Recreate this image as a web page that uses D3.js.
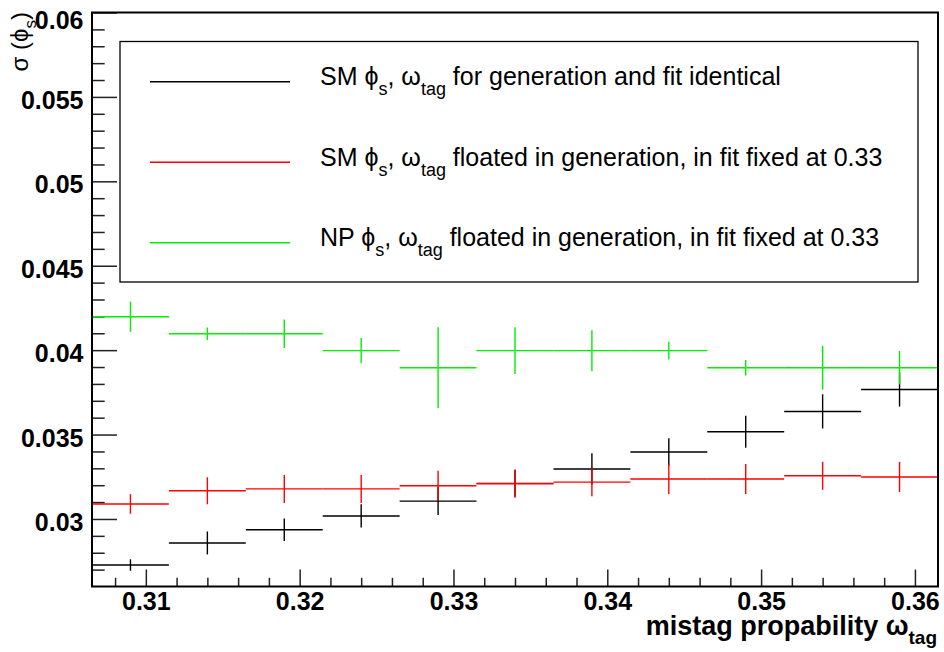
<!DOCTYPE html>
<html lang="en">
<head>
<meta charset="utf-8">
<title>sigma(phi_s) vs mistag</title>
<script src="https://cdn.jsdelivr.net/npm/d3@7"></script>
<style>
  body { margin: 0; background: #fff; }
  svg { font-family: "Liberation Sans", Arial, sans-serif; }
  .tick line { stroke: #222; stroke-width: 1.5; }
  .tick text { font-weight: bold; font-size: 25px; fill: #000; }
</style>
</head>
<body>
<script>
// bin centres (bin width 0.005)
var binCenters = [0.309, 0.314, 0.319, 0.324, 0.329, 0.334, 0.339, 0.344, 0.349, 0.354, 0.359];
var binWidth = 0.005;

// SM phi_s, w_tag identical in generation and fit
var smIdent = [0.02727, 0.02858, 0.02936, 0.03018, 0.03106, 0.03211, 0.03296, 0.03397, 0.03517, 0.03637, 0.03767];
var smIdentErr = [0.00034, 0.00068, 0.00067, 0.00069, 0.00083, 0.00080, 0.00093, 0.00081, 0.00095, 0.00101, 0.00101];

// SM phi_s, w_tag floated in generation, fixed in fit
var smFloat = [0.03089, 0.03167, 0.03178, 0.03178, 0.03197, 0.03209, 0.03218, 0.03237, 0.03237, 0.03256, 0.03249];
var smFloatErr = [0.00058, 0.00080, 0.00083, 0.00083, 0.00088, 0.00083, 0.00083, 0.00089, 0.00089, 0.00083, 0.00089];

// NP phi_s, w_tag floated in generation, fixed in fit
var npFloat = [0.04198, 0.04097, 0.04097, 0.03997, 0.03896, 0.03997, 0.03997, 0.03997, 0.03896, 0.03896, 0.03896];
var npFloatErr = [0.00089, 0.00037, 0.00085, 0.00075, 0.00240, 0.00139, 0.00121, 0.00052, 0.00046, 0.00130, 0.00099];

var xTicks = [0.31, 0.32, 0.33, 0.34, 0.35, 0.36];
var yTicks = [0.03, 0.035, 0.04, 0.045, 0.05, 0.055, 0.06];
var xDomain = [0.3065, 0.3615];
var yDomain = [0.026, 0.06];

var legendPrefix = ["SM", "SM", "NP"];
var legendText = ["for generation and fit identical",
                  "floated in generation, in fit fixed at 0.33",
                  "floated in generation, in fit fixed at 0.33"];

var margin = {top: 12.5, right: 6, bottom: 65.5, left: 92},
    W = 944, H = 652,
    width = W - margin.left - margin.right,
    height = H - margin.top - margin.bottom;

var x = d3.scaleLinear().domain(xDomain).range([0, width]);
var y = d3.scaleLinear().domain(yDomain).range([height, 0]);

var svg = d3.select("body").append("svg")
    .attr("width", W).attr("height", H);
var g = svg.append("g")
    .attr("transform", "translate(" + margin.left + "," + margin.top + ")");

// minor ticks
var xMinor = d3.range(0, 28).map(function(i) { return 0.308 + i * 0.002; })
  .filter(function(v) { return v < xDomain[1] && xTicks.every(function(t) { return Math.abs(t - v) > 1e-6; }); });
var yMinor = d3.range(0, 35).map(function(i) { return 0.026 + i * 0.001; })
  .filter(function(v) { return v > yDomain[0] + 1e-6 && v < yDomain[1] && yTicks.every(function(t) { return Math.abs(t - v) > 1e-6; }); });

g.append("g")
  .attr("transform", "translate(0," + height + ")")
  .call(d3.axisBottom(x).tickValues(xMinor).tickSize(-8.7).tickFormat(""))
  .call(function(a) { a.select(".domain").remove(); });
g.append("g")
  .attr("transform", "translate(0," + height + ")")
  .call(d3.axisBottom(x).tickValues(xTicks).tickSize(-17).tickPadding(8).tickSizeOuter(0)
        .tickFormat(d3.format(".2f")))
  .call(function(a) {
    a.select(".domain").remove();
    a.selectAll("text").attr("dy", "0.71em").attr("y", 6);
  });

g.append("g")
  .call(d3.axisLeft(y).tickValues(yMinor).tickSize(-12.7).tickFormat(""))
  .call(function(a) { a.select(".domain").remove(); });
g.append("g")
  .call(d3.axisLeft(y).tickValues(yTicks).tickSize(-25).tickPadding(8.5).tickSizeOuter(0)
        .tickFormat(function(d) { return d3.format("")(+d.toFixed(3)); }))
  .call(function(a) {
    a.select(".domain").remove();
    a.selectAll("text").attr("dy", function(d) { return d === yDomain[1] ? "0.62em" : "0.46em"; });
  });

// data (histogram-style error crosses)
function drawSeries(vals, errs, color) {
  var s = g.append("g").attr("stroke", color).attr("stroke-width", 1.4).attr("fill", "none");
  s.selectAll("line.h").data(vals).enter().append("line")
    .attr("x1", function(d, i) { return x(binCenters[i] - binWidth / 2); })
    .attr("x2", function(d, i) { return x(binCenters[i] + binWidth / 2); })
    .attr("y1", function(d) { return y(d); })
    .attr("y2", function(d) { return y(d); });
  s.selectAll("line.v").data(vals).enter().append("line")
    .attr("x1", function(d, i) { return x(binCenters[i]); })
    .attr("x2", function(d, i) { return x(binCenters[i]); })
    .attr("y1", function(d, i) { return y(d - errs[i]); })
    .attr("y2", function(d, i) { return y(d + errs[i]); });
}
var colors = ["#000000", "#ff0000", "#00ee00"];
drawSeries(smIdent, smIdentErr, colors[0]);
drawSeries(smFloat, smFloatErr, colors[1]);
drawSeries(npFloat, npFloatErr, colors[2]);

// frame
g.append("rect")
  .attr("width", width).attr("height", height)
  .attr("fill", "none").attr("stroke", "#000").attr("stroke-width", 2);

// legend
var leg = svg.append("g");
leg.append("rect")
  .attr("x", 120).attr("y", 41.5).attr("width", 798).attr("height", 240.5)
  .attr("fill", "#fff").attr("stroke", "#000").attr("stroke-width", 1.3);
var rowY = [81.7, 162.3, 242.7];
legendText.forEach(function(txt, i) {
  leg.append("line")
    .attr("x1", 150).attr("x2", 290).attr("y1", rowY[i]).attr("y2", rowY[i])
    .attr("stroke", colors[i]).attr("stroke-width", 1.4);
  var t = leg.append("text")
    .attr("x", 320).attr("y", rowY[i] + 3.5)
    .attr("font-size", 25);
  t.append("tspan").text(legendPrefix[i] + " \u03d5");
  t.append("tspan").attr("dy", 10).attr("font-size", 18).text("s");
  t.append("tspan").attr("dy", -10).text(", \u03c9");
  t.append("tspan").attr("dy", 10).attr("font-size", 18).text("tag");
  t.append("tspan").attr("dy", -10).text(" " + txt);
});

// axis titles
var xt = svg.append("text")
  .attr("x", 937).attr("y", 635)
  .attr("text-anchor", "end")
  .attr("font-weight", "bold").attr("font-size", 27);
xt.append("tspan").text("mistag propability \u03c9");
xt.append("tspan").attr("dy", 9).attr("font-size", 19).text("tag");

var yt = svg.append("text")
  .attr("transform", "translate(28,12) rotate(-90)")
  .attr("text-anchor", "end")
  .attr("font-size", 24);
yt.append("tspan").text("\u03c3 (\u03d5");
yt.append("tspan").attr("dy", 8).attr("font-size", 17).text("s");
yt.append("tspan").attr("dy", -8).text(")");
</script>
</body>
</html>
